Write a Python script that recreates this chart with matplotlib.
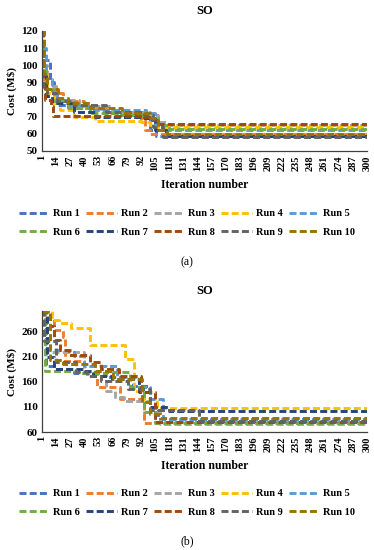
import matplotlib
matplotlib.use("Agg")
import matplotlib.pyplot as plt

runs = ["Run 1", "Run 2", "Run 3", "Run 4", "Run 5",
        "Run 6", "Run 7", "Run 8", "Run 9", "Run 10"]
colors = ["#4472C4", "#ED7D31", "#A5A5A5", "#FFC000", "#5B9BD5",
          "#70AD47", "#264478", "#9E480E", "#636363", "#997300"]
xticks = list(range(1, 301, 13))

# (a) iteration where the cost changes, and the new cost
a_iter = [
    [1, 8, 12, 16, 30, 55, 95, 100, 106],
    [1, 5, 15, 20, 40, 60, 92, 96, 100],
    [1, 6, 14, 35, 65, 100, 108, 115],
    [1, 6, 12, 18, 30, 50, 92, 100, 108],
    [1, 5, 10, 15, 25, 45, 97, 105, 112],
    [1, 5, 12, 25, 45, 70, 98, 108, 118],
    [1, 5, 10, 30, 50, 95, 105, 115],
    [1, 4, 9, 11, 95, 102, 108],
    [1, 2, 6, 15, 30, 60, 95, 103, 112],
    [1, 3, 6, 16, 25, 45, 75, 100, 108, 116],
]
a_cost = [
    [103, 90, 81, 77, 75, 73, 70, 62, 58.5],
    [92, 86, 84, 79, 75, 72, 68, 62, 60],
    [100, 88, 80, 76, 73, 71, 67, 65],
    [95, 84, 78, 74, 70, 67.5, 67, 65, 64],
    [110, 92, 85, 80, 76, 74, 72, 66, 62],
    [97, 86, 79, 75, 72, 71, 69, 65, 63],
    [94, 82, 78, 73, 70, 69, 62, 59],
    [88, 80, 76, 70.5, 70, 68, 66],
    [120, 86, 84, 79, 77, 73, 71, 64, 58],
    [120, 95, 86, 81, 78, 75, 72, 69, 62, 60],
]

# (b)
b_iter = [
    [1, 5, 12, 30, 60, 85, 100, 108],
    [1, 3, 12, 20, 22, 40, 52, 73, 95, 105],
    [1, 6, 40, 60, 68, 76, 100, 110],
    [1, 10, 17, 28, 45, 77, 86, 93, 107],
    [1, 4, 25, 30, 40, 70, 90, 100, 112],
    [1, 4, 35, 60, 82, 95, 105],
    [1, 6, 12, 40, 48, 65, 90, 100, 118],
    [1, 8, 12, 18, 26, 45, 55, 72, 92, 105],
    [1, 3, 14, 32, 42, 55, 80, 100, 145],
    [1, 8, 20, 50, 66, 93, 100, 110],
]
b_cost = [
    [300, 190, 185, 178, 169, 152, 110, 86],
    [300, 285, 262, 249, 200, 180, 149, 125, 78, 80],
    [300, 219, 190, 142, 129, 122, 100, 76],
    [300, 282, 276, 266, 232, 204, 142, 125, 108],
    [300, 222, 222, 210, 190, 170, 150, 125, 85],
    [300, 182, 178, 179, 149, 100, 78],
    [300, 209, 185, 182, 172, 165, 140, 110, 102],
    [300, 270, 242, 222, 212, 199, 185, 172, 140, 80],
    [300, 240, 199, 180, 172, 162, 145, 103, 82],
    [300, 202, 195, 182, 165, 120, 95, 88],
]

plt.rcParams["font.family"] = ["Liberation Serif", "DejaVu Serif"]
plt.rcParams["font.weight"] = "bold"

fig = plt.figure(figsize=(3.74, 5.50), dpi=100)
ax1 = fig.add_axes([0.1123, 0.7255, 0.869, 0.2182])
ax2 = fig.add_axes([0.1123, 0.2145, 0.869, 0.2200])


def draw(ax, iters, costs, ylim, yticks):
    lines = []
    for i in range(len(runs)):
        x = iters[i] + [300]
        y = costs[i] + [costs[i][-1]]
        ln, = ax.plot(x, y, color=colors[i], lw=2.1, dashes=(2.4, 1.1),
                      drawstyle="steps-post", label=runs[i])
        lines.append(ln)
    ax.set_xlim(1, 300)
    ax.set_ylim(*ylim)
    ax.set_yticks(yticks)
    ax.set_xticks(xticks)
    ax.set_xticklabels([str(t) for t in xticks], rotation=90, fontsize=7.5)
    ax.tick_params(axis="y", labelsize=8, length=0, pad=3)
    ax.tick_params(axis="x", length=0, pad=3)
    for s in ["top", "right"]:
        ax.spines[s].set_visible(False)
    for s in ["left", "bottom"]:
        ax.spines[s].set_color("#404040")
        ax.spines[s].set_linewidth(0.9)
    ax.set_title("SO", fontsize=9, fontweight="bold", pad=12)
    ax.set_ylabel("Cost (M$)", fontsize=8, fontweight="bold", labelpad=3)
    ax.set_xlabel("Iteration number", fontsize=8.5, fontweight="bold", labelpad=6)
    return lines


l1 = draw(ax1, a_iter, a_cost, (50, 120), range(50, 121, 10))
l2 = draw(ax2, b_iter, b_cost, (60, 300), range(60, 261, 50))

order = [0, 5, 1, 6, 2, 7, 3, 8, 4, 9]
for lines, yc in [(l1, 1 - 223 / 550), (l2, 1 - 503 / 550)]:
    fig.legend([lines[k] for k in order], [runs[k] for k in order],
               loc="center", bbox_to_anchor=(0.5, yc), ncol=5, frameon=False,
               fontsize=7.5, handlelength=2.9, handletextpad=0.4,
               columnspacing=0.6, labelspacing=0.9)

fig.text(0.5, 1 - 262 / 550, "(a)", ha="center", va="center",
         fontsize=8.5, fontweight="normal")
fig.text(0.5, 1 - 541 / 550, "(b)", ha="center", va="center",
         fontsize=8.5, fontweight="normal")

fig.savefig("out.png", dpi=100)
